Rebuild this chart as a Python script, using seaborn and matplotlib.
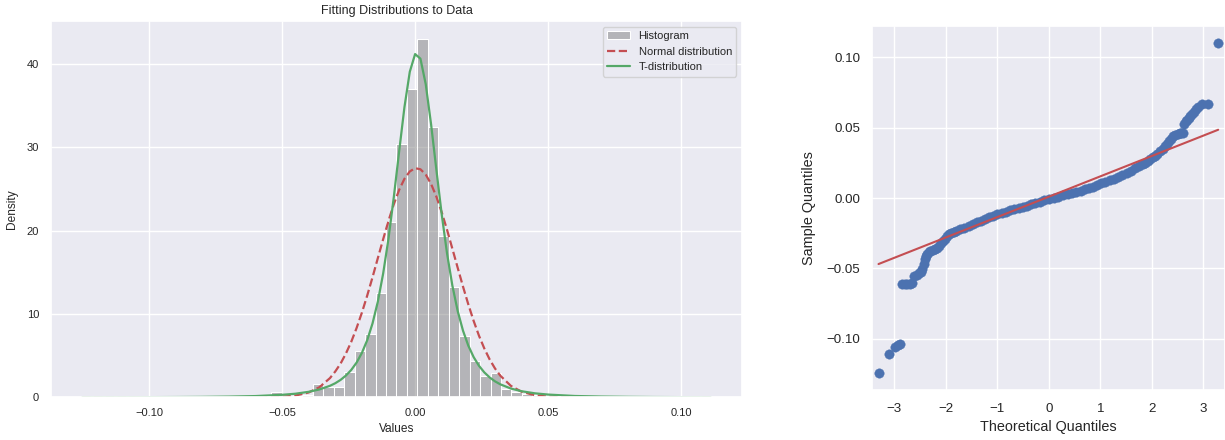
import numpy as np
import pandas as pd
import matplotlib
matplotlib.use("Agg")
import matplotlib.pyplot as plt
import seaborn as sns

sns.set_theme(style="darkgrid")
plt.rcParams['font.family'] = ['Liberation Sans', 'DejaVu Sans']

# histogram: 60 equal bins from the sample min to the sample max (density)
bin_start = -0.1248
bin_width = 0.003927
hist_density = [
    0.13, 0, 0, 0, 0, 0, 0, 0, 0, 0,
    0, 0, 0, 0, 0, 0, 0, 0, 0.65, 0,
    0.13, 0.3, 1.56, 1.2, 1.2, 3.0, 5.6, 7.6, 12.5, 21.0,
    30.4, 37.0, 43.0, 32.4, 19.3, 13.2, 7.4, 4.3, 2.6, 2.9,
    0.96, 0.64, 0.38, 0.25, 0.13, 0, 0, 0, 0, 0,
    0, 0, 0, 0, 0, 0, 0, 0, 0, 0.13,
]

# fitted density curves
curve_x = [
    -0.125, -0.11, -0.10, -0.09, -0.08, -0.07, -0.06, -0.05, -0.045, -0.04, -0.036, -0.032,
    -0.030, -0.028, -0.026, -0.024, -0.022, -0.020, -0.018, -0.016, -0.014, -0.012, -0.010,
    -0.008, -0.006, -0.004, -0.002, 0.000, 0.002, 0.004, 0.006, 0.008, 0.010, 0.012, 0.014,
    0.016, 0.018, 0.020, 0.022, 0.024, 0.026, 0.028, 0.030,
    0.032, 0.036, 0.040, 0.045, 0.050, 0.06, 0.07, 0.08, 0.09, 0.10, 0.111,
]
normal_pdf = [
    0.0, 0.0, 0.0, 0.0, 0.0, 0.0, 0.005, 0.07, 0.21, 0.58, 1.2, 2.3,
    3.1, 4.05, 5.25, 6.65, 8.3, 10.15, 12.2, 14.4, 16.7, 18.97, 21.17,
    23.17, 24.88, 26.22, 27.10, 27.49, 27.36, 26.72, 25.60, 24.07, 22.20, 20.09, 17.83,
    15.54, 13.28, 11.14, 9.16, 7.39, 5.86, 4.55, 3.47,
    2.60, 1.37, 0.67, 0.25, 0.08, 0.006, 0.0, 0.0, 0.0, 0.0, 0.0,
]
t_pdf = [
    0.009, 0.015, 0.022, 0.033, 0.051, 0.086, 0.15, 0.30, 0.43, 0.66, 0.94, 1.38,
    1.69, 2.09, 2.61, 3.28, 4.16, 5.32, 6.85, 8.86, 11.48, 14.85, 19.04,
    24.02, 29.49, 34.82, 39.05, 41.18, 40.63, 37.56, 32.76, 27.28, 21.94, 17.26, 13.40,
    10.35, 7.99, 6.19, 4.82, 3.78, 2.99, 2.39, 1.92,
    1.56, 1.05, 0.73, 0.48, 0.33, 0.16, 0.091, 0.055, 0.034, 0.023, 0.015,
]

# QQ plot points
qq_theoretical = [
    -3.31, -3.10, -2.98, -2.93, -2.89,
    -2.85, -2.80, -2.75, -2.70, -2.66,
    -2.62, -2.57, -2.53, -2.49, -2.46, -2.43, -2.41, -2.39, -2.36, -2.33,
    -2.30, -2.26, -2.22, -2.18, -2.14, -2.10, -2.06, -2.02, -1.98, -1.94,
    -1.90, -1.85, -1.80, -1.72, -1.64, -1.56, -1.48, -1.40, -1.32, -1.24,
    -1.16, -1.08, -1.00, -0.92, -0.84, -0.76, -0.68, -0.59, -0.51, -0.43,
    -0.35, -0.27, -0.18, -0.09, 0.00, 0.09, 0.18, 0.28, 0.37, 0.45,
    0.53, 0.62, 0.70, 0.78, 0.86, 0.94, 1.02, 1.10, 1.19, 1.27,
    1.35, 1.43, 1.51, 1.59, 1.67, 1.75, 1.82, 1.87, 1.92, 1.97,
    2.02, 2.06, 2.11, 2.16, 2.21, 2.26, 2.30, 2.34, 2.38, 2.42,
    2.46, 2.50, 2.54, 2.57, 2.60, 2.63, 2.66, 2.69, 2.72, 2.75,
    2.78, 2.81, 2.85, 2.90, 2.97, 3.10, 3.29,
]
qq_sample = [
    -0.1247, -0.1110, -0.1058, -0.1045, -0.1034,
    -0.0612, -0.0611, -0.0610, -0.0609, -0.0605,
    -0.0555, -0.0545, -0.0535, -0.0522, -0.0505, -0.0470, -0.0430, -0.0410, -0.0395, -0.0385,
    -0.0375, -0.0368, -0.0360, -0.0352, -0.0340, -0.0322, -0.0305, -0.0288, -0.0270, -0.0258,
    -0.0250, -0.0240, -0.0233, -0.0222, -0.0210, -0.0196, -0.0184, -0.0172, -0.0160, -0.0148,
    -0.0137, -0.0126, -0.0116, -0.0106, -0.0097, -0.0088, -0.0080, -0.0071, -0.0062, -0.0053,
    -0.0045, -0.0037, -0.0027, -0.0016, -0.0005, 0.0003, 0.0011, 0.0020, 0.0028, 0.0036,
    0.0044, 0.0053, 0.0062, 0.0072, 0.0082, 0.0093, 0.0104, 0.0115, 0.0127, 0.0138,
    0.0149, 0.0162, 0.0177, 0.0194, 0.0212, 0.0228, 0.0242, 0.0252, 0.0264, 0.0278,
    0.0291, 0.0302, 0.0316, 0.0333, 0.0350, 0.0368, 0.0385, 0.0403, 0.0420, 0.0438,
    0.0450, 0.0458, 0.0460, 0.0462, 0.0463, 0.0530, 0.0545, 0.0558, 0.0570, 0.0585,
    0.0600, 0.0615, 0.0632, 0.0650, 0.0672, 0.0666, 0.1106,
]
qq_line_x = [-3.31, 3.29]
qq_line_y = [-0.0469, 0.0486]

blue = "#4C72B0"
green = "#55A868"
red = "#C44E52"

bin_edges = [bin_start + bin_width * i for i in range(len(hist_density) + 1)]
hist_df = pd.DataFrame({
    "value": [e + bin_width / 2 for e in bin_edges[:-1]],
    "density": hist_density,
})

fig = plt.figure(figsize=(12.25, 4.4), dpi=100)
ax1 = fig.add_axes([0.0416, 0.0970, 0.5641, 0.8553])
ax2 = fig.add_axes([0.7116, 0.1136, 0.2884, 0.8273])

# left: histogram + fitted distributions
sns.histplot(data=hist_df, x="value", weights="density", bins=bin_edges, stat="count",
             color="gray", alpha=0.5, label="Histogram", ax=ax1)
sns.lineplot(x=curve_x, y=normal_pdf, color=red, linestyle="--", linewidth=1.6,
             label="Normal distribution", ax=ax1)
sns.lineplot(x=curve_x, y=t_pdf, color=green, linewidth=1.6,
             label="T-distribution", ax=ax1)

handles, labels = ax1.get_legend_handles_labels()
order = ["Histogram", "Normal distribution", "T-distribution"]
hmap = dict(zip(labels, handles))
ax1.legend([hmap[k] for k in order], order, loc="upper right", fontsize=8)
ax1.set_title("Fitting Distributions to Data", fontsize=9, pad=5)
ax1.set_xlabel("Values", fontsize=8.6, labelpad=3.5)
ax1.set_ylabel("Density", fontsize=8.6, labelpad=6)
ax1.tick_params(axis="both", labelsize=8, length=0)
ax1.tick_params(axis="x", pad=7.5)
ax1.tick_params(axis="y", pad=8.5)

# right: QQ plot
sns.scatterplot(x=qq_theoretical, y=qq_sample, color=blue, s=46,
                edgecolor=blue, linewidth=0.3, ax=ax2)
sns.lineplot(x=qq_line_x, y=qq_line_y, color=red, linewidth=1.5, ax=ax2)
ax2.margins(x=0.02, y=0.05)
ax2.set_xlabel("Theoretical Quantiles", fontsize=10.4, labelpad=4)
ax2.set_ylabel("Sample Quantiles", fontsize=10.4, labelpad=8)
ax2.tick_params(axis="both", labelsize=9.6, length=0)
ax2.tick_params(axis="x", pad=9)
ax2.tick_params(axis="y", pad=8)

fig.savefig("out.png", dpi=100)
